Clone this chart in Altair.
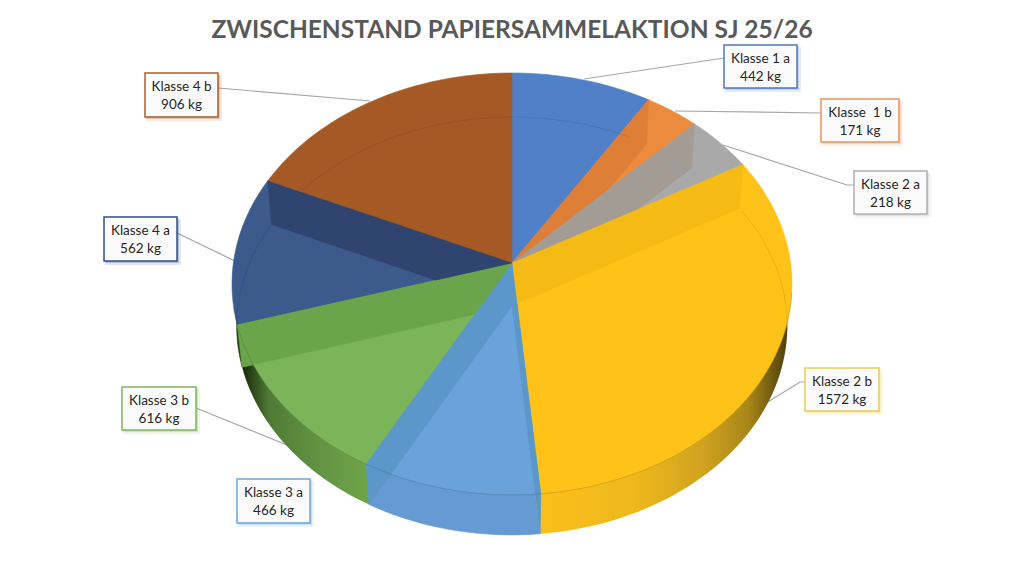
import math
import altair as alt

# ---- data
classes = ["Klasse 1 a", "Klasse \u00a01 b", "Klasse 2 a", "Klasse 2 b", "Klasse 3 a", "Klasse 3 b", "Klasse 4 a", "Klasse 4 b"]
values = [442, 171, 218, 1572, 466, 616, 562, 906]
title_text = "ZWISCHENSTAND PAPIERSAMMELAKTION SJ 25/26"

# ---- styles
top_colors = ["#5080c8", "#ec8a3e", "#a9a9a9", "#fec219", "#69a3d9", "#7cb45a", "#3c5a8c", "#a55a25"]
band_colors = ["#4f7dc5", "#dd7f37", "#a29c95", "#f4bb14", "#5b98c9", "#6aa54b", "#2f4570", "#a35824"]
wall_colors = ["#4472c4", "#d9752c", "#909090", "#eab41a", "#659bd2", "#6ca044", "#1e3a10", "#8c4a1c"]
box_colors = ["#4f77b8", "#ec9358", "#b0b0b0", "#e9cc55", "#6aa6dc", "#7fb45e", "#2f4f85", "#a8602e"]

# ---- layout (reference pixels)
box_xy = [(724, 45, 797, 88), (821, 99, 899, 142), (854, 171, 927, 214), (805, 368, 879, 411),
          (237, 479, 310, 523), (122, 387, 196, 430), (104, 217, 177, 261), (145, 73, 218, 117)]
leaders = [[(584, 79), (724, 58)], [(675, 111), (821, 113)], [(723, 145), (847, 185), (854, 185)],
           [(763, 405), (800, 382), (805, 382)], [], [(196, 408), (287, 445)],
           [(177, 233), (237, 262)], [(218, 88), (370, 101)]]
TOP = dict(cx=512, cy=263, a=208.9, b=278.6, k=0.0995)
BOT = dict(cx=512, cy=306, a=207.0, b=274.0, k=0.0957)

total = sum(values)
edges = [0.0]
for v in values:
    edges.append(edges[-1] + v / total * 360)


def proj(t, p):
    r = math.radians(t)
    u, v = math.sin(r), math.cos(r)
    w = 1 + p["k"] * v
    return (p["cx"] + p["b"] * u / w, p["cy"] - p["a"] * v / w)


def arc(t0, t1, p):
    n = max(2, int(abs(t1 - t0) / 1.5))
    return [proj(t0 + (t1 - t0) * i / n, p) for i in range(n + 1)]


def sector(t0, t1, p):
    return [(p["cx"], p["cy"])] + arc(t0, t1, p)


def area(poly):
    return 0.5 * sum(poly[i][0] * poly[(i + 1) % len(poly)][1] - poly[(i + 1) % len(poly)][0] * poly[i][1]
                     for i in range(len(poly)))


def clip(subject, clipper):
    sign = 1 if area(clipper) > 0 else -1
    out = subject
    for i in range(len(clipper)):
        a, b = clipper[i], clipper[(i + 1) % len(clipper)]
        if abs(a[0] - b[0]) + abs(a[1] - b[1]) < 1e-9:
            continue
        side = lambda q: sign * ((b[0] - a[0]) * (q[1] - a[1]) - (b[1] - a[1]) * (q[0] - a[0]))
        inp, out = out, []
        for j in range(len(inp)):
            c, d = inp[j], inp[(j + 1) % len(inp)]
            sc, sd = side(c), side(d)
            if sc >= 0:
                out.append(c)
            if (sc >= 0) != (sd >= 0):
                f = sc / (sc - sd)
                out.append((c[0] + (d[0] - c[0]) * f, c[1] + (d[1] - c[1]) * f))
        if not out:
            return []
    return out


def feature(poly, color):
    ring = [list(q) for q in poly] + [list(poly[0])]
    return {"type": "Feature", "properties": {"color": color}, "geometry": {"type": "Polygon", "coordinates": [ring]}}


def line_feature(pts):
    return {"type": "Feature", "properties": {}, "geometry": {"type": "LineString", "coordinates": [list(q) for q in pts]}}


projection = dict(type="identity", scale=1, translate=[-8, -8])


def shapes(features, stroke_w=0.6):
    return alt.Chart(alt.Data(values=features)).mark_geoshape(strokeWidth=stroke_w).encode(
        fill=alt.Color("properties.color:N", scale=None),
        stroke=alt.Color("properties.color:N", scale=None),
    ).project(**projection)


def gradient(stops):
    return alt.Gradient(gradient="linear", x1=0, x2=1, y1=0, y2=0,
                        stops=[alt.GradientStop(offset=o, color=c) for o, c in stops])


layers = []

# ---- walls
sectors_top = [sector(edges[i], edges[i + 1], TOP) for i in range(len(values))]
sectors_bot = [sector(edges[i], edges[i + 1], BOT) for i in range(len(values))]
plain = [feature(sectors_bot[i], wall_colors[i]) for i in range(len(values)) if i not in (3, 5)]
layers.append(shapes(plain))
layers.append(alt.Chart(alt.Data(values=[feature(sectors_bot[3], "x")])).mark_geoshape(
    fill=gradient([(0, "#fdc11a"), (0.45, "#eeb81c"), (0.7, "#cfa220"), (0.86, "#a88618"), (0.95, "#6e5812"), (1, "#4e3f0e")])
).project(**projection))
layers.append(alt.Chart(alt.Data(values=[feature(sectors_bot[5], "x")])).mark_geoshape(
    fill=gradient([(0, "#16280c"), (0.04, "#2c4a1a"), (0.1, "#4f7a35"), (0.25, "#5f9040"), (0.48, "#70a64a"), (1, "#70a64a")])
).project(**projection))

# ---- cut faces
wall_bands, top_bands = [], []
for i in range(len(values)):
    for t in (edges[i], edges[i + 1]):
        r0, r1 = proj(t, TOP), proj(t, BOT)
        quad = [(TOP["cx"], TOP["cy"]), r0, r1, (BOT["cx"], BOT["cy"])]
        if abs(area(quad)) < 1:
            continue
        c = clip(quad, sectors_top[i])
        if len(c) > 2 and abs(area(c)) > 20:
            top_bands.append(feature(c, band_colors[i]))
            wall_bands.append(feature(quad, band_colors[i]))
layers.append(shapes(wall_bands))
layers.append(shapes([feature(sectors_top[i], top_colors[i]) for i in range(len(values))]))
layers.append(shapes(top_bands, 0.3))

# ---- faint rims
rims = [line_feature(arc(258, 294, BOT)), line_feature(arc(306, 388, BOT)), line_feature(arc(edges[3] + 1, 100, BOT))]
layers.append(alt.Chart(alt.Data(values=rims)).mark_geoshape(filled=False, stroke="#000000", strokeOpacity=0.09, strokeWidth=1).project(**projection))
front = [line_feature(arc(98, 258, TOP))]
layers.append(alt.Chart(alt.Data(values=front)).mark_geoshape(filled=False, stroke="#000000", strokeOpacity=0.18, strokeWidth=0.8).project(**projection))

# ---- leaders
xs = alt.Scale(domain=[8, 1016])
ys = alt.Scale(domain=[8, 553], reverse=True)
X = lambda f: alt.X(f, type="quantitative", scale=xs, axis=None)
Y = lambda f: alt.Y(f, type="quantitative", scale=ys, axis=None)

leader_rows = [{"n": classes[i], "o": j, "x": q[0], "y": q[1]} for i, pts in enumerate(leaders) for j, q in enumerate(pts)]
leader_layer = alt.Chart(alt.Data(values=leader_rows)).mark_line(color="#a6a6a6", strokeWidth=1.2).encode(
    x=X("x"), y=Y("y"), detail="n:N", order="o:Q")

# ---- boxes
box_rows = []
for i, (x0, y0, x1, y1) in enumerate(box_xy):
    box_rows.append({"name": classes[i], "kg": f"{values[i]} kg", "x0": x0, "y0": y0, "x1": x1, "y1": y1,
                     "sx0": x0 + 1, "sy0": y0 + 1, "sx1": x1 + 2, "sy1": y1 + 2,
                     "ox0": x0 + 1, "oy0": y0 + 2, "ox1": x1 + 4, "oy1": y1 + 4,
                     "xc": (x0 + x1) / 2, "yt": y0 + 13.5, "yb": y0 + 32, "color": box_colors[i]})
box_data = alt.Data(values=box_rows)
shadow_outer = alt.Chart(box_data).mark_rect(opacity=0.14).encode(
    x=X("ox0"), x2="ox1:Q", y=Y("oy0"), y2="oy1:Q", color=alt.Color("color:N", scale=None))
shadow = alt.Chart(box_data).mark_rect(opacity=0.25).encode(
    x=X("sx0"), x2="sx1:Q", y=Y("sy0"), y2="sy1:Q", color=alt.Color("color:N", scale=None))
box = alt.Chart(box_data).mark_rect(fill="#fbfbfb", strokeWidth=1.5).encode(
    x=X("x0"), x2="x1:Q", y=Y("y0"), y2="y1:Q", stroke=alt.Color("color:N", scale=None))
text_style = dict(font="Lato", fontSize=13.5, color="#262626", align="center", baseline="middle")
t1 = alt.Chart(box_data).mark_text(**text_style).encode(x=X("xc"), y=Y("yt"), text="name:N")
t2 = alt.Chart(box_data).mark_text(**text_style).encode(x=X("xc"), y=Y("yb"), text="kg:N")

title = alt.Chart(alt.Data(values=[{"t": title_text, "x": 512, "y": 31}])).mark_text(
    font="Lato", fontSize=24.5, fontWeight="bold", color="#595959", align="center", baseline="middle"
).encode(x=X("x"), y=Y("y"), text="t:N")

chart = alt.layer(leader_layer, *layers, shadow_outer, shadow, box, t1, t2, title).properties(
    width=1008, height=545, padding=0, autosize=alt.AutoSizeParams(type="none"),
    background="#ffffff"
).configure_view(stroke=None)

chart.save("out.html", embed_options={"renderer": "svg", "actions": False})
